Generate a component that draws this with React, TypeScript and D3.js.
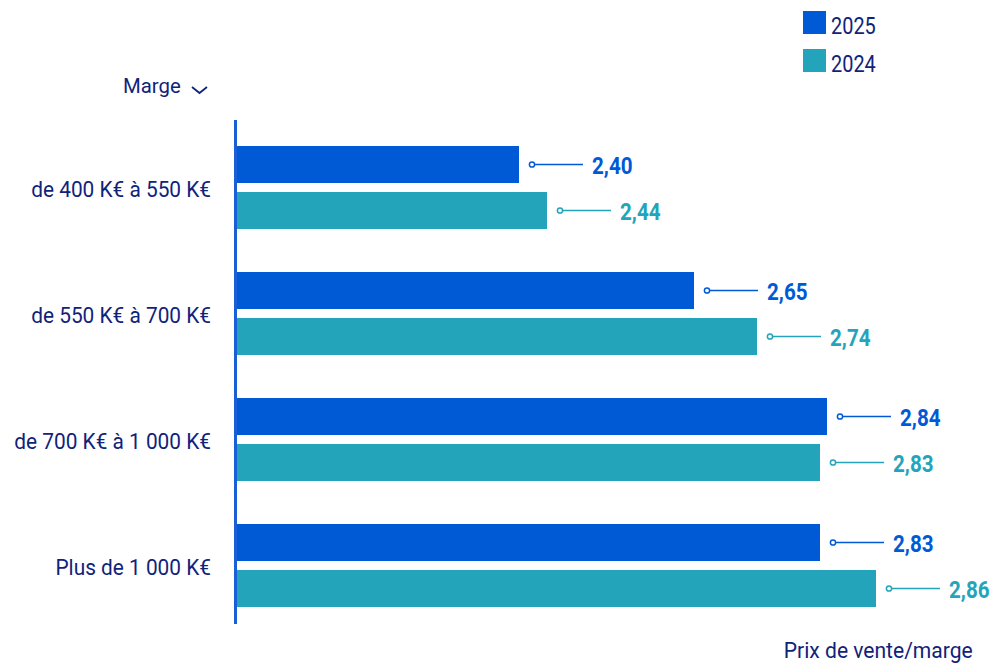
import React from "react";
import * as d3 from "d3";

const categories = [
  "de 400 K€ à 550 K€",
  "de 550 K€ à 700 K€",
  "de 700 K€ à 1 000 K€",
  "Plus de 1 000 K€",
];
const seriesNames = ["2025", "2024"];
// bar lengths as drawn in the picture
const values2025 = [2.4, 2.65, 2.84, 2.83];
const values2024 = [2.44, 2.74, 2.83, 2.91];
// printed value labels
const labels2025 = ["2,40", "2,65", "2,84", "2,83"];
const labels2024 = ["2,44", "2,74", "2,83", "2,86"];

const COLORS: Record<string, string> = { "2025": "#005AD6", "2024": "#24A4BA" };
const NAVY = "#10237A";
const FONT = "Roboto, 'Noto Sans', sans-serif";

function CText({
  x,
  y,
  sx = 1,
  anchor = "start",
  size,
  weight = 400,
  fill,
  children,
}: any) {
  return (
    <g transform={`translate(${x},${y}) scale(${sx},1)`}>
      <text
        x={0}
        y={0}
        textAnchor={anchor}
        fontSize={size}
        fontWeight={weight}
        fill={fill}
        fontFamily={FONT}
      >
        {children}
      </text>
    </g>
  );
}

export default function App() {
  const W = 994;
  const H = 664;
  const axisX = 235.5;

  const x = d3.scaleLinear().domain([2, 3]).range([239, 939]);
  const y = d3.scaleBand<string>().domain(categories).range([124.5, 628.5]).padding(0);
  const inner = d3
    .scaleBand<string>()
    .domain(seriesNames)
    .range([21.5, 104.5])
    .paddingInner(9 / 46)
    .paddingOuter(0);

  const data = categories.map((c, i) => ({
    cat: c,
    series: [
      { name: "2025", value: values2025[i], label: labels2025[i] },
      { name: "2024", value: values2024[i], label: labels2024[i] },
    ],
  }));

  return (
    <svg
      width={W}
      height={H}
      style={{ position: "absolute", left: 0, top: 0, background: "#fff" }}
    >
      {/* legend */}
      {seriesNames.map((s, i) => (
        <g key={s}>
          <rect x={803} y={11 + i * 38} width={23} height={23} fill={COLORS[s]} />
          <CText x={831} y={33.7 + i * 38} sx={0.83} size={24} fill={NAVY}>
            {s}
          </CText>
        </g>
      ))}

      {/* Marge header */}
      <CText x={123} y={93} sx={0.97} size={21} fill={NAVY}>
        Marge
      </CText>
      <path d="M192,87 L199.5,93 L207,87" fill="none" stroke={NAVY} strokeWidth={1.8} />

      {/* axis line */}
      <line x1={axisX} x2={axisX} y1={120} y2={624} stroke="#1A5FD6" strokeWidth={3} />

      {data.map((g) => {
        const gy = y(g.cat)!;
        const cy = gy + y.bandwidth() / 2;
        return (
          <g key={g.cat}>
            <CText x={211} y={cy + 9.2} sx={0.97} anchor="end" size={21.5} fill={NAVY}>
              {g.cat}
            </CText>
            {g.series.map((s) => {
              const by = gy + inner(s.name)!;
              const bh = inner.bandwidth();
              const xe = x(s.value);
              const my = by + bh / 2;
              const col = COLORS[s.name];
              return (
                <g key={s.name}>
                  <rect x={237} y={by} width={xe - 237} height={bh} fill={col} />
                  <line x1={xe + 15.6} x2={xe + 64} y1={my} y2={my} stroke={col} strokeWidth={1.5} />
                  <circle cx={xe + 13} cy={my} r={2.6} fill="#fff" stroke={col} strokeWidth={1.5} />
                  <CText x={xe + 73} y={my + 9.6} sx={0.86} size={24} weight={700} fill={col}>
                    {s.label}
                  </CText>
                </g>
              );
            })}
          </g>
        );
      })}

      {/* x axis title */}
      <CText x={972.7} y={658.3} sx={0.98} anchor="end" size={21.5} fill={NAVY}>
        Prix de vente/marge
      </CText>
    </svg>
  );
}
